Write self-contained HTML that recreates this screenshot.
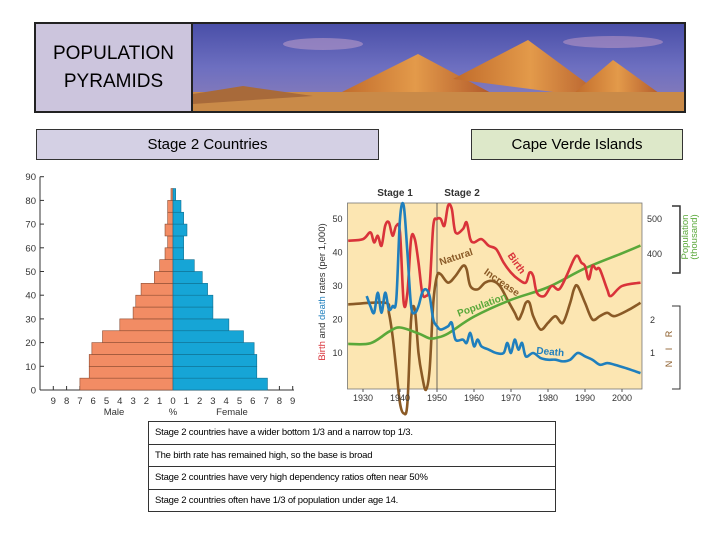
<!DOCTYPE html>
<html><head><meta charset="utf-8"><style>
body{margin:0;width:720px;height:540px;background:#fff;position:relative;overflow:hidden;font-family:"Liberation Sans",sans-serif}
.abs{position:absolute}
#title{left:34px;top:22px;width:157px;background:#ccc5dd;border:2px solid #222;border-right:none;font-size:19px;text-align:center;line-height:28px;padding-top:16px;box-sizing:border-box;height:91px}
#banner{left:191px;top:22px;width:495px;height:91px;border:2px solid #222;box-sizing:border-box}
.lbl{border:1px solid #333;box-sizing:border-box;text-align:center;font-size:15px;line-height:29px}
#notes{left:148px;top:421px;width:408px;border:1px solid #333;box-sizing:border-box}
#notes div{height:21.5px;line-height:21px;border-top:1px solid #333;font-size:9.5px;padding-left:6px;letter-spacing:-0.2px}
#notes div:first-child{border-top:none}
</style></head><body>
<div id="title" class="abs">POPULATION<br>PYRAMIDS</div>
<svg id="banner" class="abs" viewBox="0 0 491 87" preserveAspectRatio="none">
<defs><linearGradient id="sky" x1="0" y1="0" x2="0" y2="1"><stop offset="0" stop-color="#4a4fa8"/><stop offset="0.5" stop-color="#6d6fc0"/><stop offset="1" stop-color="#8e7fb8"/></linearGradient>
<linearGradient id="py" x1="0" y1="0" x2="1" y2="0"><stop offset="0" stop-color="#c06a2a"/><stop offset="0.5" stop-color="#e39a4a"/><stop offset="1" stop-color="#b0582a"/></linearGradient></defs>
<rect width="491" height="87" fill="url(#sky)"/>
<ellipse cx="130" cy="20" rx="40" ry="6" fill="#b89ac8" opacity="0.6"/>
<ellipse cx="420" cy="18" rx="50" ry="6" fill="#c8a0c8" opacity="0.5"/>
<polygon points="145,70 225,30 300,70" fill="url(#py)"/>
<polygon points="260,55 335,16 415,75" fill="url(#py)"/>
<polygon points="380,70 420,36 470,72" fill="url(#py)"/>
<rect y="68" width="491" height="19" fill="#c98a48"/>
<polygon points="0,70 50,62 120,72 0,80" fill="#a86a3a"/>
</svg>
<div class="abs lbl" style="left:36px;top:129px;width:343px;height:31px;background:#d4d0e4">Stage 2 Countries</div>
<div class="abs lbl" style="left:471px;top:129px;width:212px;height:31px;background:#dde8c9">Cape Verde Islands</div>

<svg class="abs" style="left:0;top:160px" width="310" height="265" id="pyr"></svg>
<svg class="abs" style="left:300px;top:175px" width="420" height="245" id="cv"></svg>

<div id="notes" class="abs">
<div>Stage 2 countries have a wider bottom 1/3 and a narrow top 1/3.</div>
<div>The birth rate has remained high, so the base is broad</div>
<div>Stage 2 countries have very high dependency ratios often near 50%</div>
<div>Stage 2 countries often have 1/3 of population under age 14.</div>
</div>
<script>
const ageGroups=[0,5,10,15,20,25,30,35,40,45,50,55,60,65,70,75,80];
const maleVals=[7.0,6.3,6.3,6.1,5.3,4.0,3.0,2.8,2.4,1.4,1.0,0.6,0.4,0.6,0.4,0.4,0.15];
const femaleVals=[7.1,6.3,6.3,6.1,5.3,4.2,3.0,3.0,2.6,2.2,1.6,0.8,0.8,1.05,0.8,0.6,0.2];
const ageTicks=[0,10,20,30,40,50,60,70,80,90];
const pctTicks=[9,8,7,6,5,4,3,2,1,0,1,2,3,4,5,6,7,8,9];

const birthYrs=[1926,1930,1932,1933,1934,1935,1936,1937,1938,1939,1940,1941,1942,1943,1944,1945,1946,1947,1948,1949,1950,1951,1952,1953,1954,1955,1957,1958,1959,1960,1962,1964,1966,1968,1970,1972,1974,1975,1976,1977,1979,1981,1983,1985,1987,1988,1989,1990,1991,1992,1993,1994,1996,1997,2000,2005];
const birthVals=[43.5,44,46,43,45,42,48,49,45,48,46,25,28,44,44,37,28,27,30,48,50,50,48,54,53,46,47,49,44,43,44,42,41,37,34,32,31,34,33,28,27,30,29,33,38,39,37,36,32,36,35,35,29,27,30,31];
const deathYrs=[1931,1932,1933,1934,1935,1936,1937,1938,1939,1940,1941,1942,1943,1944,1945,1946,1947,1948,1949,1950,1951,1953,1954,1955,1957,1958,1959,1960,1961,1962,1964,1966,1968,1969,1970,1971,1972,1973,1974,1976,1978,1980,1982,1984,1986,1988,1990,1992,1994,1996,1998,2001,2005];
const deathVals=[27,24,22,28,22,28,23,24,26,50,54,40,24,22,24,28,29,27,20,18,17,18,19,14,14,13,16,12,14,12,11,10,10,13,10,14,11,13,9,10,8.5,8,8,7.5,8,10,9,8,6.5,7,6.5,5.5,4];
const nirYrs=[1926,1936,1937,1938,1939,1940,1941,1942,1943,1944,1945,1946,1947,1948,1949,1950,1951,1953,1955,1957,1958,1959,1961,1963,1965,1967,1969,1971,1972,1973,1974,1975,1976,1978,1980,1982,1984,1986,1987,1988,1990,1992,1994,1996,1998,2002,2005];
const nirVals=[24.5,25,22,15,5,-5,-8,-5,20,23,10,3,-1,5,25,33,33.5,31,33,36,35,30,29,31,31.5,30,26,22,20,22,25,25,21,17,19,21,19,25,29,30,25,20,21,22,21,23,25];
const popYrs=[1926,1932,1937,1940,1945,1948,1950,1953,1960,1970,1980,1990,2000,2005];
const popVals=[143,145,178,190,173,159,161,173,221,269,305,359,402,424];
const yearTicks=[1930,1940,1950,1960,1970,1980,1990,2000];
const rateTicks=[10,20,30,40,50];
const popTicks=[400,500];
const nirTicks=[1,2];

const NS='http://www.w3.org/2000/svg';
function mk(p,t,a,txt){const e=document.createElementNS(NS,t);for(const k in a)e.setAttribute(k,a[k]);if(txt!==undefined)e.textContent=txt;p.appendChild(e);return e;}

const P=document.getElementById('pyr');
const ageY=a=>390-160-a*2.37;
const pctX=v=>173+v*13.3;
mk(P,'line',{x1:40,y1:ageY(0),x2:40,y2:ageY(90),stroke:'#333','stroke-width':1});
mk(P,'line',{x1:40,y1:ageY(0),x2:294,y2:ageY(0),stroke:'#333','stroke-width':1});
ageTicks.forEach(t=>{
 const l=mk(P,'line',{x1:40,y1:ageY(t),x2:44,y2:ageY(t),stroke:'#333'});
 
 
 const tx=mk(P,'text',{x:36,y:ageY(t)+3.5,'font-size':9.5,'text-anchor':'end',fill:'#333'},t);
 
 
});
pctTicks.forEach((t,i)=>{
 const v=i<9?-t:t;
 mk(P,'line',{x1:pctX(v),y1:ageY(0),x2:pctX(v),y2:ageY(0)-4,stroke:'#333'});
 const tx=mk(P,'text',{x:pctX(v),y:ageY(0)+14,'font-size':9.5,'text-anchor':'middle',fill:'#333'},t);
 
 
});
ageGroups.forEach((a,i)=>{
 const y=ageY(a+5),h=ageY(a)-ageY(a+5);
 const m=mk(P,'rect',{x:pctX(-maleVals[i]),y:y,width:pctX(0)-pctX(-maleVals[i]),height:h,fill:'#f28c64',stroke:'#8a4a30','stroke-width':0.6});
 
 
 const f=mk(P,'rect',{x:pctX(0),y:y,width:pctX(femaleVals[i])-pctX(0),height:h,fill:'#16a5d6',stroke:'#0f6f90','stroke-width':0.6});
 
 
});
let t1=mk(P,'text',{x:114,y:ageY(0)+25,'font-size':9.5,'text-anchor':'middle',fill:'#333'},'Male');


let t2=mk(P,'text',{x:173,y:ageY(0)+25,'font-size':9.5,'text-anchor':'middle',fill:'#333'},'%');


let t3=mk(P,'text',{x:232,y:ageY(0)+25,'font-size':9.5,'text-anchor':'middle',fill:'#333'},'Female');



const C=document.getElementById('cv');
const OX=300,OY=175;
const yrX=y=>363+(y-1930)*3.7-OX;
const rY=v=>386.5-v*3.35-OY;
const pY=v=>394-v*0.35-OY;
const nY=v=>386-v*33-OY;
const L=yrX(1925.8),R=yrX(2005.4),T=203-OY,B=389-OY;
mk(C,'rect',{x:L,y:T,width:R-L,height:B-T,fill:'#fce6b2',stroke:'#777','stroke-width':0.8});
mk(C,'line',{x1:yrX(1950),y1:T,x2:yrX(1950),y2:B,stroke:'#444','stroke-width':0.8});
function smooth(xs,ys){let d='M'+xs[0]+','+ys[0];for(let i=0;i<xs.length-1;i++){const x0=xs[i-1]??xs[i],y0=ys[i-1]??ys[i],x3=xs[i+2]??xs[i+1],y3=ys[i+2]??ys[i+1];
 d+=' C'+(xs[i]+(xs[i+1]-x0)/6)+','+(ys[i]+(ys[i+1]-y0)/6)+' '+(xs[i+1]-(x3-xs[i])/6)+','+(ys[i+1]-(y3-ys[i])/6)+' '+xs[i+1]+','+ys[i+1];}return d;}
function series(yrs,vals,fy,col,name){const p=mk(C,'path',{d:smooth(yrs.map(yrX),vals.map(fy)),fill:'none',stroke:col,'stroke-width':2.6,'stroke-linejoin':'round'});
 
 }
series(nirYrs,nirVals,rY,'#8a5a26','natural-increase-line');
series(popYrs,popVals,pY,'#5aa83a','population-line');
series(birthYrs,birthVals,rY,'#d9333a','birth-line');
series(deathYrs,deathVals,rY,'#1f7fbd','death-line');
yearTicks.forEach(y=>{mk(C,'line',{x1:yrX(y),y1:B,x2:yrX(y),y2:B+3,stroke:'#555'});
 const t=mk(C,'text',{x:yrX(y),y:B+12,'font-size':9,'text-anchor':'middle',fill:'#333'},y);
 
 });
rateTicks.forEach(v=>{const t=mk(C,'text',{x:L-5,y:rY(v)+3,'font-size':9,'text-anchor':'end',fill:'#333'},v);
 
 });
popTicks.forEach(v=>{const t=mk(C,'text',{x:R+5,y:pY(v)+3,'font-size':9,fill:'#333'},v);
 
 });
nirTicks.forEach(v=>{const t=mk(C,'text',{x:R+8,y:nY(v)+3,'font-size':9,fill:'#333'},v);
 
 });
mk(C,'path',{d:`M${R+30},${206-OY} h${8} V${273-OY} h-8`,fill:'none',stroke:'#333','stroke-width':1.5});
mk(C,'path',{d:`M${R+30},${306-OY} h${8} V${389-OY} h-8`,fill:'none',stroke:'#333','stroke-width':1});
let ax=mk(C,'text',{transform:`translate(${R+46},${237-OY}) rotate(-90)`,'font-size':9.5,'text-anchor':'middle',fill:'#5aa83a'},'Population');


let ax2=mk(C,'text',{transform:`translate(${R+55},${237-OY}) rotate(-90)`,'font-size':9.5,'text-anchor':'middle',fill:'#5aa83a'},'(thousand)');


let ax3=mk(C,'text',{transform:`translate(${R+30},${347-OY}) rotate(-90)`,'font-size':9,'text-anchor':'middle',fill:'#8a5a26','letter-spacing':'4'},'N I R');


let yl=mk(C,'text',{transform:`translate(${325-OX},${292-OY}) rotate(-90)`,'font-size':9.5,'text-anchor':'middle',fill:'#333'});


[['Birth','#d9333a'],[' and ','#333'],['death','#1f7fbd'],[' rates (per 1,000)','#333']].forEach(([s,c])=>mk(yl,'tspan',{fill:c},s));
function lab(txt,x,y,rot,col,name){const t=mk(C,'text',{transform:`translate(${x-OX},${y-OY}) rotate(${rot})`,'font-size':10,'font-weight':'bold','text-anchor':'middle',fill:col},txt);
 
 }
lab('Stage 1',395,196,0,'#333','stage1-label');
lab('Stage 2',462,196,0,'#333','stage2-chart-label');
lab('Birth',514,265,55,'#d9333a','birth-label');
lab('Natural',457,260,-18,'#8a5a26','natural-label');
lab('Increase',500,285,35,'#8a5a26','increase-label');
lab('Population',483,308,-20,'#5aa83a','population-label');
lab('Death',550,355,5,'#1f7fbd','death-label');
</script>
</body></html>
